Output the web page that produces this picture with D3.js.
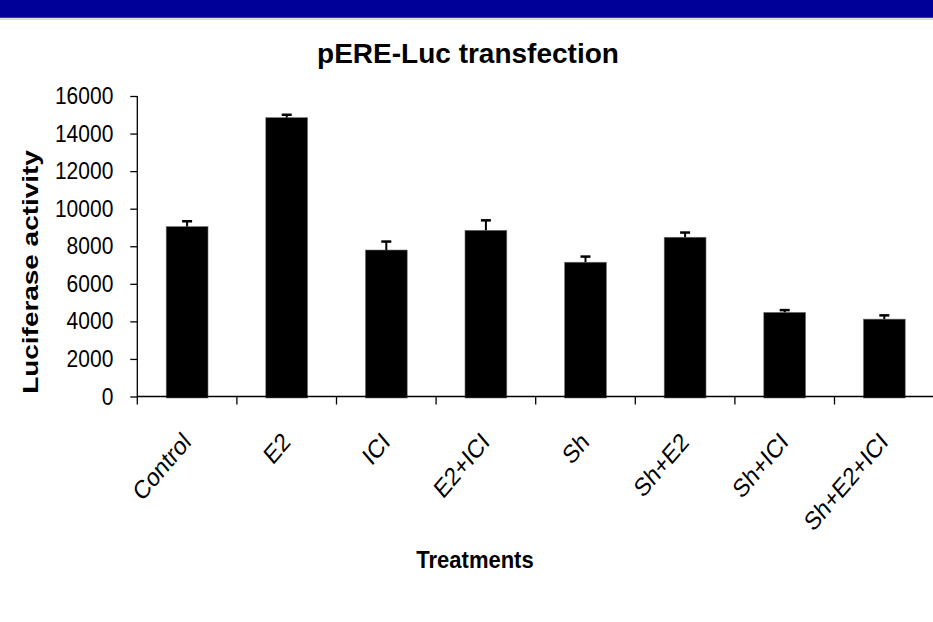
<!DOCTYPE html>
<html>
<head>
<meta charset="utf-8">
<script src="https://cdn.jsdelivr.net/npm/d3@7"></script>
<style>
  html, body { margin: 0; padding: 0; background: #ffffff; }
  svg { display: block; }
  text { font-family: "Liberation Sans", Arial, sans-serif; fill: #000; }
</style>
</head>
<body>
<svg id="chart" width="933" height="622"></svg>
<script>
// Treatment groups and measured luciferase activity (mean and upper error)
const treatments = ["Control", "E2", "ICI", "E2+ICI", "Sh", "Sh+E2", "Sh+ICI", "Sh+E2+ICI"];
const activity   = [9050, 14850, 7800, 8850, 7150, 8480, 4480, 4120];
const errors     = [280, 150, 450, 530, 300, 250, 120, 200];
const yTicks     = [0, 2000, 4000, 6000, 8000, 10000, 12000, 14000, 16000];

const svg = d3.select("#chart");

// Header band
svg.append("rect").attr("x", 0).attr("y", 0).attr("width", 933).attr("height", 17)
  .attr("fill", "#000099");
svg.append("line").attr("x1", 0).attr("x2", 933).attr("y1", 17.5).attr("y2", 17.5)
  .attr("stroke", "#444").attr("stroke-width", 1);
svg.append("line").attr("x1", 0).attr("x2", 933).attr("y1", 19).attr("y2", 19)
  .attr("stroke", "#bbb").attr("stroke-width", 1);

const x = d3.scaleBand()
  .domain(treatments)
  .range([137.3, 934.1])
  .paddingInner(0.58)
  .paddingOuter(0.29);

const y = d3.scaleLinear().domain([0, 16000]).range([396.5, 96]);

const data = treatments.map((t, i) => ({ t, v: activity[i], e: errors[i] }));

// Bars
svg.append("g").selectAll("rect").data(data).join("rect")
  .attr("x", d => x(d.t))
  .attr("width", x.bandwidth())
  .attr("y", d => y(d.v))
  .attr("height", d => y(0) - y(d.v) + 1.5)
  .attr("fill", "#000")
  .attr("stroke", "#777")
  .attr("stroke-width", 0.6);

// Upper error bars
const eb = svg.append("g").attr("stroke", "#000");
eb.selectAll("line.stem").data(data).join("line")
  .attr("class", "stem")
  .attr("x1", d => x(d.t) + x.bandwidth() / 2)
  .attr("x2", d => x(d.t) + x.bandwidth() / 2)
  .attr("y1", d => y(d.v))
  .attr("y2", d => y(d.v + d.e))
  .attr("stroke-width", 2);
eb.selectAll("line.cap").data(data).join("line")
  .attr("class", "cap")
  .attr("x1", d => x(d.t) + x.bandwidth() / 2 - 5)
  .attr("x2", d => x(d.t) + x.bandwidth() / 2 + 5)
  .attr("y1", d => y(d.v + d.e))
  .attr("y2", d => y(d.v + d.e))
  .attr("stroke-width", 2.5);

// Y axis
const yAxis = d3.axisLeft(y).tickValues(yTicks).tickSize(7).tickSizeOuter(0).tickPadding(17)
  .tickFormat(d3.format("d"));
const gy = svg.append("g").attr("transform", "translate(137.3,0)").call(yAxis);
gy.select(".domain").remove();
gy.selectAll(".tick line").attr("stroke", "#000").attr("stroke-width", 1.3);
gy.selectAll(".tick text").attr("font-size", 21).attr("fill", "#000")
  .attr("transform", "scale(1,1.12)")
  .style("font-family", "'Liberation Sans', Arial, sans-serif");
svg.append("line").attr("x1", 137.3).attr("x2", 137.3)
  .attr("y1", y(16000)).attr("y2", y(0) + 8)
  .attr("stroke", "#000").attr("stroke-width", 1.3);

// X axis with ticks between categories
const step = x.step();
const gap = step - x.bandwidth();
const bounds = treatments.map(t => x(t) - gap / 2).concat([x(treatments[treatments.length - 1]) + x.bandwidth() + gap / 2]);
svg.append("line").attr("x1", 137.3).attr("x2", 933).attr("y1", y(0)).attr("y2", y(0))
  .attr("stroke", "#000").attr("stroke-width", 1.3);
svg.append("g").selectAll("line").data(bounds.slice(1)).join("line")
  .attr("x1", d => d).attr("x2", d => d)
  .attr("y1", y(0)).attr("y2", y(0) + 8)
  .attr("stroke", "#000").attr("stroke-width", 1.3);

// Category labels, rotated
svg.append("g").selectAll("text").data(treatments).join("text")
  .attr("text-anchor", "end")
  .attr("font-size", 22)
  .attr("transform", d => `translate(${x(d) + x.bandwidth() / 2 + 5},${y(0) + 47}) scale(1,1.17) rotate(-45)`)
  .text(d => d);

// Title and axis titles
svg.append("text").attr("x", 468).attr("y", 63).attr("text-anchor", "middle")
  .attr("font-size", 28).attr("font-weight", "bold").text("pERE-Luc transfection");

svg.append("text").attr("transform", "translate(475,568) scale(1,1.1)").attr("text-anchor", "middle")
  .attr("font-size", 22).attr("font-weight", "bold").text("Treatments");

svg.append("text")
  .attr("transform", "translate(38,272) scale(1,1.27) rotate(-90)")
  .attr("text-anchor", "middle")
  .attr("font-size", 22).attr("font-weight", "bold")
  .text("Luciferase activity");
</script>
</body>
</html>
